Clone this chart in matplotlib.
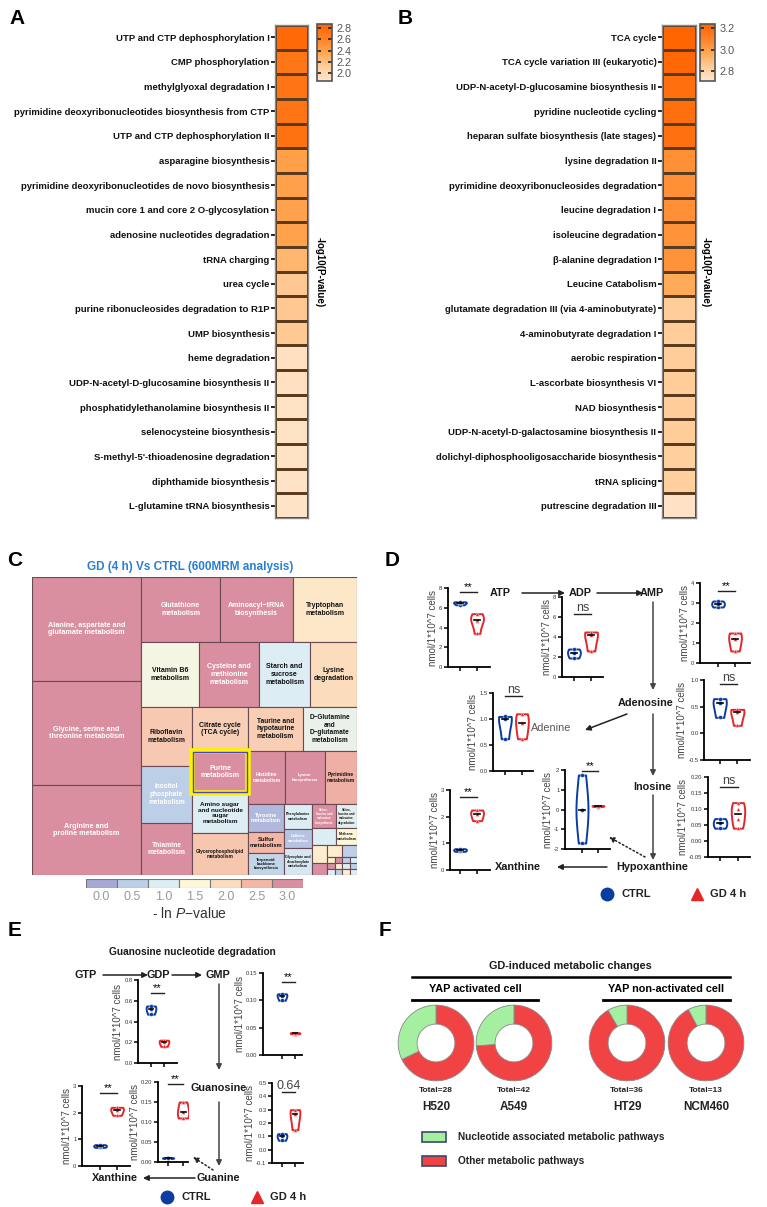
import numpy as np
import matplotlib
matplotlib.use('Agg')
import matplotlib.pyplot as plt
from matplotlib import font_manager as fm
from matplotlib.colors import LinearSegmentedColormap, Normalize
from matplotlib.patches import Rectangle

# ------------------------------------------------------------------ data
a_pathways = [
    "UTP and CTP dephosphorylation I", "CMP phosphorylation", "methylglyoxal degradation I",
    "pyrimidine deoxyribonucleotides biosynthesis from CTP", "UTP and CTP dephosphorylation II",
    "asparagine biosynthesis", "pyrimidine deoxyribonucleotides de novo biosynthesis",
    "mucin core 1 and core 2 O-glycosylation", "adenosine nucleotides degradation", "tRNA charging",
    "urea cycle", "purine ribonucleosides degradation to R1P", "UMP biosynthesis", "heme degradation",
    "UDP-N-acetyl-D-glucosamine biosynthesis II", "phosphatidylethanolamine biosynthesis II",
    "selenocysteine biosynthesis", "S-methyl-5'-thioadenosine degradation", "diphthamide biosynthesis",
    "L-glutamine tRNA biosynthesis"]
a_values = [2.82, 2.71, 2.73, 2.73, 2.74, 2.41, 2.40, 2.39, 2.39, 2.26, 2.14, 2.14, 2.13,
            1.91, 1.91, 1.90, 1.90, 1.90, 1.89, 1.89]

b_pathways = [
    "TCA cycle", "TCA cycle variation III (eukaryotic)", "UDP-N-acetyl-D-glucosamine biosynthesis II",
    "pyridine nucleotide cycling", "heparan sulfate biosynthesis (late stages)", "lysine degradation II",
    "pyrimidine deoxyribonucleosides degradation", "leucine degradation I", "isoleucine degradation",
    "\u03b2-alanine degradation I", "Leucine Catabolism", "glutamate degradation III (via 4-aminobutyrate)",
    "4-aminobutyrate degradation I", "aerobic respiration", "L-ascorbate biosynthesis VI",
    "NAD biosynthesis", "UDP-N-acetyl-D-galactosamine biosynthesis II",
    "dolichyl-diphosphooligosaccharide biosynthesis", "tRNA splicing", "putrescine degradation III"]
b_values = [3.23, 3.22, 3.19, 3.19, 3.18, 3.05, 3.05, 3.05, 3.04, 3.04, 2.96, 2.84, 2.84, 2.84,
            2.84, 2.84, 2.84, 2.83, 2.83, 2.73]

tm_names = [
    "Alanine, aspartate and\nglutamate metabolism", "Glycine, serine and\nthreonine metabolism",
    "Arginine and\nproline metabolism", "Glutathione\nmetabolism", "Aminoacyl\u2212tRNA\nbiosynthesis",
    "Tryptophan\nmetabolism", "Vitamin B6\nmetabolism", "Cysteine and\nmethionine\nmetabolism",
    "Starch and\nsucrose\nmetabolism", "Lysine\ndegradation", "Riboflavin\nmetabolism",
    "Inositol\nphosphate\nmetabolism", "Thiamine\nmetabolism", "Citrate cycle\n(TCA cycle)",
    "Purine\nmetabolism", "Amino sugar\nand nucleotide\nsugar\nmetabolism",
    "Glycerophospholipid\nmetabolism", "Taurine and\nhypotaurine\nmetabolism",
    "D\u2212Glutamine\nand\nD\u2212glutamate\nmetabolism", "Histidine\nmetabolism",
    "Lysine\nbiosynthesis", "Pyrimidine\nmetabolism", "Tyrosine\nmetabolism", "Sulfur\nmetabolism",
    "Terpenoid\nbackbone\nbiosynthesis", "Phenylalanine\nmetabolism", "Caffeine\nmetabolism",
    "Glyoxylate and\ndicarboxylate\nmetabolism", "Valine,\nleucine and\nisoleucine\nbiosynthesis",
    "Valine,\nleucine and\nisoleucine\ndegradation", "", "Methane\nmetabolism",
    "", "", "", "", "", "", "", "", "", "", "", "", "", "", "", ""]
tm_sizes = [11336, 11336, 9810, 5135, 4745, 4160, 3770, 3900, 3315, 3055, 3009, 2907, 2652,
            2464, 2352, 2240, 2352, 2420, 2376, 1961, 2120, 1696, 1008, 756, 792, 700, 532, 756,
            576, 504, 408, 357, 270, 180, 180, 180] + [45] * 12
tm_lnp = [3.0, 3.0, 3.0, 3.0, 3.0, 1.8, 1.35, 3.0, 1.0, 2.0, 2.25, 0.5, 3.0, 2.2, 3.0, 1.0,
          2.3, 2.2, 1.2, 3.0, 3.0, 2.6, 0.2, 2.5, 0.6, 1.0, 0.35, 0.9, 3.0, 1.1, 1.0, 1.5,
          1.7, 3.0, 1.7, 0.5, 1.7, 3.0, 0.5, 1.0, 3.0, 1.7, 1.0, 0.5, 1.0, 0.5, 1.7, 1.0]
tm_scale_ticks = [0.0, 0.5, 1.0, 1.5, 2.0, 2.5, 3.0]
tm_highlight = "Purine\nmetabolism"

# panel D (nmol / 1*10^7 cells)
atp_ctrl, atp_gd = [6.3, 6.5, 6.6], [3.4, 4.7, 4.8, 5.4]
adp_ctrl, adp_gd = [1.9, 2.4, 2.8], [2.6, 4.2, 4.5]
amp_ctrl, amp_gd = [2.8, 2.95, 3.1], [0.6, 1.2, 1.5]
adenosine_ctrl, adenosine_gd = [0.3, 0.56, 0.65], [0.15, 0.4, 0.45]
adenine_ctrl, adenine_gd = [0.62, 1.0, 1.05], [0.62, 0.92, 1.1]
xanthine_ctrl, xanthine_gd = [0.7, 0.75, 0.8], [1.85, 2.1, 2.25]
hypoxanthine_ctrl, hypoxanthine_gd = [-1.7, 0.0, 0.0, 1.75], [0.15, 0.18, 0.2]
inosine_ctrl, inosine_gd = [0.04, 0.055, 0.07], [0.04, 0.07, 0.1, 0.12]
# panel E
gdp_ctrl, gdp_gd = [0.47, 0.52, 0.55], [0.16, 0.2, 0.22]
gmp_ctrl, gmp_gd = [0.1, 0.108, 0.112], [0.039, 0.040, 0.041]
xan_e_ctrl, xan_e_gd = [0.7, 0.75, 0.8], [1.9, 2.1, 2.2]
guanine_ctrl, guanine_gd = [0.009, 0.010, 0.011], [0.11, 0.125, 0.15]
guanosine_ctrl, guanosine_gd = [0.07, 0.1, 0.12], [0.15, 0.27, 0.3]

# panel F
f_cells = ["H520", "A549", "HT29", "NCM460"]
f_total = [28, 42, 36, 13]
f_nucleotide = [9, 11, 3, 1]

# ------------------------------------------------------------------ style
W, H = 767, 1207
names = {f.name for f in fm.fontManager.ttflist}
NARROW = 'Liberation Sans Narrow' if 'Liberation Sans Narrow' in names else 'Liberation Sans'
plt.rcParams['font.family'] = ['Liberation Sans', 'DejaVu Sans']
plt.rcParams['mathtext.fontset'] = 'custom'
plt.rcParams['mathtext.it'] = 'Liberation Sans:italic'
plt.rcParams['mathtext.rm'] = 'Liberation Sans'

BLUE = '#0B3C9F'
RED = '#E5262B'
GREEN = '#A4F0A0'
DRED = '#F14343'

fig = plt.figure(figsize=(W / 100, H / 100), dpi=100)


def px_axes(l, t, r, b):
    return fig.add_axes([l / W, 1 - b / H, (r - l) / W, (b - t) / H])


ov = px_axes(0, 0, W, H)
ov.set_xlim(0, W)
ov.set_ylim(H, 0)
ov.axis('off')

heat_cmap = LinearSegmentedColormap.from_list(
    'heat', [(0, '#FFE6CC'), (0.25, '#FFCC99'), (0.5, '#FFA650'), (0.72, '#FF8428'), (1, '#FF6400')])


def heatmap(box, labels, vals, vmin, vmax, cbox, ticks, lab_x):
    ax = px_axes(*box)
    norm = Normalize(vmin, vmax)
    arr = np.array(vals).reshape(-1, 1)
    m = ax.pcolormesh(arr, cmap=heat_cmap, norm=norm, edgecolors='#5b3b1e', linewidth=0.8)
    ax.set_ylim(len(vals), 0)
    ax.set_xlim(0, 1)
    ax.set_xticks([])
    ax.set_yticks(np.arange(len(vals)) + 0.5)
    if NARROW.endswith('Narrow'):
        ax.set_yticklabels(labels, fontsize=8, fontweight='bold', family=NARROW)
    else:
        ax.set_yticklabels(labels, fontsize=6.8, fontweight='bold')
    ax.tick_params(axis='y', length=3, width=1.2, pad=1, labelcolor='#111')
    for s in ax.spines.values():
        s.set_color('#888')
        s.set_linewidth(1)
    cax = px_axes(*cbox)
    cb = fig.colorbar(m, cax=cax, ticks=ticks)
    cb.outline.set_edgecolor('#555')
    cb.outline.set_linewidth(1.2)
    cax.set_yticklabels([f'{t:.1f}' for t in ticks])
    cax.tick_params(axis='y', direction='in', length=3, width=1.2, color='#222',
                    labelsize=7.8, labelcolor='#555', left=True, right=True, pad=3)
    ov.text(lab_x, 272, '-log10(P-value)', rotation=-90, ha='center', va='center',
            fontsize=7, fontweight='bold')


heatmap((275, 25, 308, 518), a_pathways, a_values, 1.86, 2.87, (317, 24, 332, 81),
        [2.0, 2.2, 2.4, 2.6, 2.8], 320)
heatmap((662, 25, 696, 518), b_pathways, b_values, 2.71, 3.24, (700, 24, 715, 81),
        [2.8, 3.0, 3.2], 706)

# ------------------------------------------------------------------ panel C treemap
tm_colors = ['#A8A8D8', '#BCCFE6', '#DDEDF4', '#FEF8DA', '#FBDDBE', '#F4B7A6', '#D98FA0']
tm_cmap = LinearSegmentedColormap.from_list('tm', list(zip(np.linspace(0, 1, 7), tm_colors)))
tm_norm = Normalize(0, 3)

tm_layout = ('h', [
    ('v', [0, 1, 2]),
    ('v', [
        ('h', [3, 4, 5]),
        ('h', [6, 7, 8, 9]),
        ('h', [
            ('v', [10, 11, 12]),
            ('v', [13, 14, 15, 16]),
            ('v', [
                ('h', [17, 18]),
                ('h', [19, 20, 21]),
                ('h', [
                    ('v', [22, 23, 24]),
                    ('v', [25, 26, 27]),
                    ('v', [
                        ('h', [28, 29]),
                        ('h', [30, 31]),
                        ('h', [
                            ('v', [32, 33]),
                            ('v', [
                                ('h', [34, 35]),
                                ('v', [('h', [36, 37, 38, 39]), ('h', [40, 41, 42, 43]),
                                       ('h', [44, 45, 46, 47])]),
                            ]),
                        ]),
                    ]),
                ]),
            ]),
        ]),
    ]),
])
tm_fs = [5.2, 5.2, 5.2, 5, 5, 5, 5, 5, 5, 5, 4.9, 4.7, 4.9, 5, 5, 4.6, 3.4, 4.8, 4.7, 3.6, 3.2,
         3.6, 3.9, 4.2, 3.0, 2.6, 2.7, 2.6, 2.2, 2.2, 3, 2.6] + [3] * 16


def node_size(n):
    if isinstance(n, int):
        return tm_sizes[n]
    return sum(node_size(k) for k in n[1])


def layout(n, x, y, w, h, out):
    if isinstance(n, int):
        out[n] = (x, y, w, h)
        return
    orient, kids = n
    tot = sum(node_size(k) for k in kids)
    pos = 0.0
    for k in kids:
        f = node_size(k) / tot
        if orient == 'h':
            layout(k, x + pos * w, y, f * w, h, out)
        else:
            layout(k, x, y + pos * h, w, f * h, out)
        pos += f


rects = {}
layout(tm_layout, 0, 0, 1, 1, rects)
tax = px_axes(32, 577, 357, 875)
tax.set_xlim(0, 1)
tax.set_ylim(1, 0)
tax.axis('off')
for i in range(len(tm_names)):
    x, y, w, h = rects[i]
    v = tm_lnp[i]
    tax.add_patch(Rectangle((x, y), w, h, facecolor=tm_cmap(tm_norm(v)),
                            edgecolor='#6a4a55', linewidth=0.8))
    if tm_names[i]:
        tc = 'white' if (v >= 2.8 or v <= 0.55) else '#111'
        tax.text(x + w / 2, y + h / 2, tm_names[i], ha='center', va='center', fontsize=tm_fs[i],
                 fontweight='bold', color=tc, linespacing=1.15)
hi = tm_names.index(tm_highlight)
x, y, w, h = rects[hi]
tax.add_patch(Rectangle((x, y), w, h, fill=False, edgecolor='#FFF200', linewidth=4, zorder=5))
tax.add_patch(Rectangle((x + 0.004, y + 0.004), w - 0.008, h - 0.008, fill=False,
                        edgecolor='#4848B8', linewidth=1, zorder=6))

cbx = px_axes(86, 879, 303, 888)
cbx.bar(np.arange(len(tm_scale_ticks)), 1, width=1,
        color=[tm_cmap(tm_norm(v)) for v in tm_scale_ticks], edgecolor='#777', linewidth=0.8)
cbx.set_xlim(-0.5, len(tm_scale_ticks) - 0.5)
cbx.set_ylim(0, 1)
cbx.set_yticks([])
cbx.set_xticks(np.arange(len(tm_scale_ticks)))
cbx.set_xticklabels([f'{v:.1f}' for v in tm_scale_ticks])
cbx.tick_params(axis='x', length=0, labelsize=9, labelcolor='#9A9A9A', pad=2)
for s in cbx.spines.values():
    s.set_visible(False)
ov.text(190, 914, '- ln $P$\u2212value', ha='center', va='center', fontsize=10, color='#333')
ov.text(190, 567, 'GD (4 h) Vs CTRL (600MRM analysis)', ha='center', va='center',
        fontsize=8.5, fontweight='bold', color='#2A7FD4')

# ------------------------------------------------------------------ violins


def violin(box, xlim, ctrl, gd, ylim, yticks, fmt, stat, stat_y):
    ax = px_axes(*box)
    ax.patch.set_alpha(0)
    parts = ax.violinplot([ctrl, gd], positions=[1, 2], widths=0.75, showextrema=False)
    for body, c in zip(parts['bodies'], [BLUE, RED]):
        body.set_facecolor('white')
        body.set_edgecolor(c)
        body.set_linewidth(1.4)
        body.set_alpha(1)
    for pos, vals, c, mk in [(1, ctrl, BLUE, 'o'), (2, gd, RED, '^')]:
        ax.scatter([pos] * len(vals), vals, s=8, marker=mk, color=c, edgecolor='white',
                   linewidth=0.3, zorder=3)
        med = np.median(vals)
        ax.plot([pos - 0.17, pos + 0.17], [med, med], color='black', lw=1.2, zorder=4)
    ax.set_xlim(*xlim)
    ax.set_ylim(*ylim)
    ax.set_yticks(yticks)
    ax.set_yticklabels([fmt.format(v) for v in yticks])
    ax.set_xticks([1, 2])
    ax.set_xticklabels([])
    for s in ['top', 'right']:
        ax.spines[s].set_visible(False)
    for s in ['left', 'bottom']:
        ax.spines[s].set_linewidth(1.3)
    ax.tick_params(length=3, width=1.1, labelsize=4.2, pad=1, labelcolor='#333')
    ax.set_ylabel('nmol/1*10^7 cells', fontsize=7, color='#444', labelpad=1)
    ax.plot([1, 2], [stat_y] * 2, color='#222', lw=1, clip_on=False)
    if stat == '**':
        ax.text(1.5, stat_y, stat, ha='center', va='bottom', fontsize=8, clip_on=False)
    else:
        ax.text(1.5, stat_y, stat, ha='center', va='bottom', fontsize=9, color='#444', clip_on=False)
    return ax


violin((448, 588, 490, 667), (0.3, 2.76), atp_ctrl, atp_gd, (0, 8), [0, 2, 4, 6, 8], '{:.0f}', '**', 7.6)
violin((562, 597, 603, 677), (0.3, 2.7), adp_ctrl, adp_gd, (0, 8), [0, 2, 4, 6, 8], '{:.0f}', 'ns', 6.3)
violin((700, 583, 750, 663), (-0.06, 2.88), amp_ctrl, amp_gd, (0, 4), [0, 1, 2, 3, 4], '{:.0f}', '**', 3.6)
violin((704, 680, 750, 760), (0.11, 2.72), adenosine_ctrl, adenosine_gd, (-0.5, 1.0),
       [-0.5, 0.0, 0.5, 1.0], '{:.1f}', 'ns', 0.93)
violin((493, 693, 533, 771), (0.3, 2.65), adenine_ctrl, adenine_gd, (0, 1.5),
       [0.0, 0.5, 1.0, 1.5], '{:.1f}', 'ns', 1.45)
violin((450, 790, 490, 870), (0.41, 2.76), xanthine_ctrl, xanthine_gd, (0, 3), [0, 1, 2, 3], '{:.0f}', '**', 2.75)
violin((565, 770, 610, 849), (-0.06, 2.75), hypoxanthine_ctrl, hypoxanthine_gd, (-2, 2),
       [-2, -1, 0, 1, 2], '{:.0f}', '**', 1.95)
violin((708, 777, 750, 857), (0.33, 2.67), inosine_ctrl, inosine_gd, (-0.05, 0.2),
       [-0.05, 0.0, 0.05, 0.10, 0.15, 0.20], '{:.2f}', 'ns', 0.17)

violin((138, 980, 177, 1063), (0.0, 3.0), gdp_ctrl, gdp_gd, (0, 0.8), [0, 0.2, 0.4, 0.6, 0.8], '{:.1f}', '**', 0.675)
violin((263, 973, 302, 1055), (-0.46, 2.54), gmp_ctrl, gmp_gd, (0, 0.15), [0, 0.05, 0.10, 0.15], '{:.2f}', '**', 0.134)
violin((82, 1086, 130, 1166), (-0.06, 2.76), xan_e_ctrl, xan_e_gd, (0, 3), [0, 1, 2, 3], '{:.0f}', '**', 2.74)
violin((158, 1082, 188, 1162), (0.33, 2.33), guanine_ctrl, guanine_gd, (0, 0.2),
       [0, 0.05, 0.10, 0.15, 0.20], '{:.2f}', '**', 0.195)
violin((272, 1083, 303, 1163), (0.23, 2.62), guanosine_ctrl, guanosine_gd, (-0.1, 0.5),
       [-0.1, 0.0, 0.1, 0.2, 0.3, 0.4, 0.5], '{:.1f}', '0.64', 0.43)

# ------------------------------------------------------------------ pathway arrows / labels


def arrow(p0, p1, dotted=False, color='#222'):
    ov.annotate('', xy=p1, xytext=p0,
                arrowprops=dict(arrowstyle='-|>', lw=1.1, color=color, mutation_scale=8,
                                shrinkA=0, shrinkB=0, linestyle=':' if dotted else '-'))


def flow(x, y, s, **kw):
    d = dict(ha='center', va='center', fontsize=7.8, fontweight='bold', color='#1a1a1a')
    d.update(kw)
    ov.text(x, y, s, **d)


# D
flow(500, 593, 'ATP')
flow(580, 593, 'ADP')
flow(652, 593, 'AMP')
flow(646, 703, 'Adenosine')
flow(551, 728, 'Adenine', fontweight='normal', color='#555')
flow(652, 787, 'Inosine')
flow(652, 867, 'Hypoxanthine')
flow(518, 867, 'Xanthine')
arrow((522, 593), (565, 593))
arrow((597, 593), (643, 593))
arrow((653, 602), (653, 690), color='#444')
arrow((627, 714), (585, 730))
arrow((653, 714), (653, 776), color='#444')
arrow((653, 795), (653, 860), color='#444')
arrow((607, 867), (557, 867))
arrow((645, 857), (609, 837), dotted=True)

# E
ov.text(192, 952, 'Guanosine nucleotide degradation', ha='center', va='center', fontsize=7.3,
        fontweight='bold', color='#1a1a1a')
flow(86, 975, 'GTP')
flow(158, 975, 'GDP')
flow(218, 975, 'GMP')
flow(219, 1088, 'Guanosine')
flow(218, 1178, 'Guanine')
flow(115, 1178, 'Xanthine')
arrow((103, 975), (148, 975))
arrow((172, 975), (202, 975))
arrow((219, 984), (219, 1070), color='#444')
arrow((219, 1102), (219, 1166), color='#444')
arrow((195, 1178), (143, 1178))
arrow((213, 1170), (193, 1157), dotted=True)

# legends
for (cx, cy) in [(607, 894), (167, 1197)]:
    ov.plot(cx, cy, 'o', ms=9, color=BLUE)
    ov.text(cx + 14, cy, 'CTRL', ha='left', va='center', fontsize=8, fontweight='bold', color='#222')
    ov.plot(cx + 90, cy, '^', ms=9, color=RED)
    ov.text(cx + 103, cy, 'GD 4 h', ha='left', va='center', fontsize=8, fontweight='bold', color='#222')

# ------------------------------------------------------------------ panel F
ov.text(570, 966, 'GD-induced metabolic changes', ha='center', va='center', fontsize=7.8,
        fontweight='bold', color='#1a1a1a')
ov.plot([412, 730], [977, 977], color='black', lw=1.8)
ov.text(475, 989, 'YAP activated cell', ha='center', va='center', fontsize=7.8, fontweight='bold')
ov.plot([412, 538], [1000, 1000], color='black', lw=2)
ov.text(666, 989, 'YAP non-activated cell', ha='center', va='center', fontsize=7.8, fontweight='bold')
ov.plot([603, 730], [1000, 1000], color='black', lw=2)

f_cx = [436, 514, 627, 706]
R = 38
for cx, cell, tot, nuc in zip(f_cx, f_cells, f_total, f_nucleotide):
    dax = px_axes(cx - R - 1, 1043 - R - 1, cx + R + 1, 1043 + R + 1)
    dax.pie([tot - nuc, nuc], colors=[DRED, GREEN], startangle=90, counterclock=False,
            radius=1, wedgeprops=dict(width=0.5, edgecolor='#888', linewidth=0.6))
    dax.set_xlim(-1.03, 1.03)
    dax.set_ylim(-1.03, 1.03)
    dax.set_aspect('equal')
    ov.text(cx, 1090, f'Total={tot}', ha='center', va='center', fontsize=6, fontweight='bold',
            color='#222')
    ov.text(cx, 1107, cell, ha='center', va='center', fontsize=8.5, fontweight='bold', color='#222')

for yy, col, lab in [(1137, GREEN, 'Nucleotide associated metabolic pathways'),
                     (1161, DRED, 'Other metabolic pathways')]:
    ov.add_patch(Rectangle((422, yy - 5), 24, 10, facecolor=col, edgecolor='#3a4a6a', linewidth=1.2))
    ov.text(458, yy, lab, ha='left', va='center', fontsize=7.3, fontweight='bold', color='#222')

# ------------------------------------------------------------------ panel letters
for x, y, s in [(17, 18, 'A'), (405, 18, 'B'), (15, 560, 'C'), (392, 560, 'D'),
                (15, 930, 'E'), (385, 930, 'F')]:
    ov.text(x, y, s, ha='center', va='center', fontsize=15, fontweight='bold', color='black')

fig.savefig('out.png', dpi=100)
